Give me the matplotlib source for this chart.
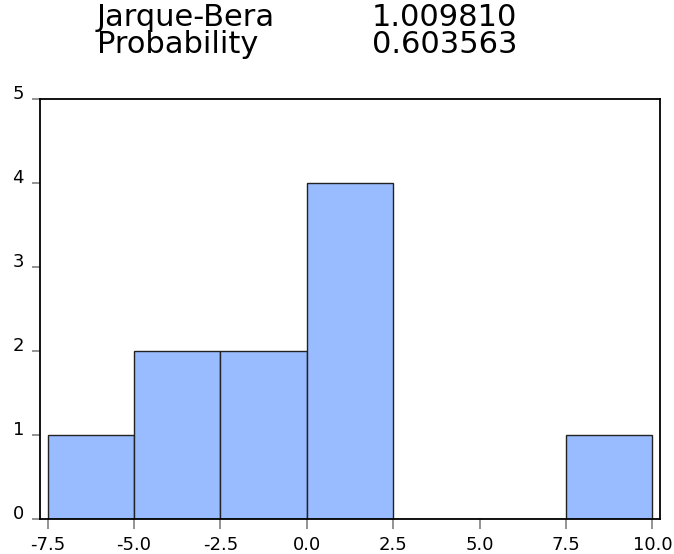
import numpy as np
import matplotlib.pyplot as plt

# histogram data (EViews style)
bin_left = [-7.5, -5.0, -2.5, 0.0, 2.5, 5.0, 7.5]
counts   = [1, 2, 2, 4, 0, 0, 1]
bin_width = 2.5
xticks = [-7.5, -5.0, -2.5, 0.0, 2.5, 5.0, 7.5, 10.0]
yticks = [0, 1, 2, 3, 4, 5]
stat_names  = ["Jarque-Bera", "Probability"]
stat_values = ["1.009810", "0.603563"]

plt.rcParams['font.family'] = ['DejaVu Sans']

fig = plt.figure(figsize=(6.74, 5.54), dpi=100)
ax = fig.add_axes([40/674, 1-519/554, 620/674, 420/554])

ax.bar(bin_left, counts, width=bin_width, align='edge',
       color='#99bbff', edgecolor='#222222', linewidth=1.0)

ax.set_xlim(-7.72, 10.22)
ax.set_ylim(0, 5)
ax.set_xticks(xticks)
ax.set_xticklabels(["%.1f" % v for v in xticks])
ax.set_yticks(yticks)
ax.tick_params(axis='both', direction='out', width=1.2,
               color='#808080', labelsize=13)
ax.tick_params(axis='x', length=7.5, pad=4.5)
ax.tick_params(axis='y', length=6, pad=5.5)
for lab in ax.get_yticklabels():
    lab.set_verticalalignment('baseline')
for s in ax.spines.values():
    s.set_linewidth(1.3)
    s.set_color('black')

#-- statistics text block above the plot
ys = [1-26/554, 1-53/554]
for name, val, y in zip(stat_names, stat_values, ys):
    fig.text(97/674, y, name, fontsize=22, va='baseline', ha='left')
    fig.text(372/674, y, val, fontsize=22, va='baseline', ha='left')

fig.savefig('out.png', dpi=100)
